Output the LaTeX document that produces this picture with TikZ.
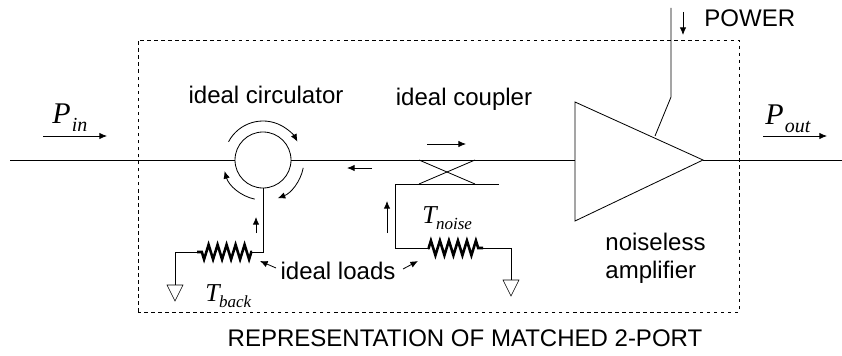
\documentclass[tikz,border=0pt]{standalone}
\usepackage{fontspec}
\setmainfont{Liberation Sans}
\newfontfamily\timesfont{Liberation Serif}
\usetikzlibrary{decorations.pathmorphing, arrows.meta}
\tikzset{
    txt/.style={inner sep=0pt, anchor=base, font=\fontsize{20.5pt}{24pt}\selectfont},
    sym/.style={inner sep=0pt, anchor=base west},
    load/.style={line width=2.2pt, decorate, decoration={zigzag, segment length=0.27cm, amplitude=0.22cm, pre length=0.02cm, post length=0.02cm}},
    gnd/.style={draw, line width=0.5pt}
}
\newcommand{\symP}[2]{{\timesfont\itshape\fontsize{25.6pt}{26pt}\selectfont #1\kern1pt\lower7.5pt\hbox{\fontsize{17pt}{17pt}\selectfont #2}}}
\newcommand{\symT}[2]{{\timesfont\itshape\fontsize{22pt}{22pt}\selectfont #1\kern-0.5pt\lower5.5pt\hbox{\fontsize{14.5pt}{15pt}\selectfont #2}}}
\begin{document}
\begin{tikzpicture}[>={Latex[length=6.5pt,width=5.5pt]}, x=0.03cm, y=0.03cm, line width=0.7pt]
    \useasboundingbox (0,0) rectangle (842,355);
    % 1. Dashed outline of the 2-port
    \draw[dashed, line width=0.6pt] (138,43) rectangle (739,315);

    % 2. Main components
    \node[draw, circle, minimum size=1.68cm, inner sep=0pt] (circ) at (263,195) {};
    \coordinate (linein) at (10,195);
    \coordinate (lineout) at (842,195);
    \coordinate (ampin) at (575,195);
    \coordinate (amptop) at (575,253);
    \coordinate (ampbot) at (575,134);
    \coordinate (amptip) at (703,195);
    \draw (amptop) -- (amptip) -- (ampbot) -- cycle;
    \draw (linein) -- (circ.west);
    \draw (circ.east) -- (ampin);
    \draw (amptip) -- (lineout);

    % 3. Power feed
    \coordinate (powtop) at (671,347);
    \coordinate (powknee) at (671,258);
    \coordinate (powend) at (655,219);
    \draw (powtop) -- (powknee) -- (powend);

    % 4. Coupler
    \coordinate (cplA) at (419,195);
    \coordinate (cplB) at (475,195);
    \coordinate (cplC) at (419,171);
    \coordinate (cplD) at (475,171);
    \coordinate (cplE) at (499,171);
    \coordinate (cplF) at (395,171);
    \draw (cplA) -- (cplD);
    \draw (cplC) -- (cplB);
    \draw (cplF) -- (cplE);

    % 5. Load of the coupler
    \coordinate (noiseL) at (395,107);
    \coordinate (noiseA) at (428,107);
    \coordinate (noiseB) at (483,107);
    \coordinate (noiseR) at (511,107);
    \coordinate (noiseG) at (511,75);
    \draw (cplF) -- (noiseL) -- (noiseA);
    \draw[load] (noiseA) -- (noiseB);
    \draw (noiseB) -- (noiseR) -- (noiseG);
    \draw[gnd] (503,75) -- (519,75) -- (511,59) -- cycle;

    % 6. Load of the circulator
    \coordinate (backR) at (263,103);
    \coordinate (backB) at (252,103);
    \coordinate (backA) at (197,103);
    \coordinate (backL) at (175,103);
    \coordinate (backG) at (175,70);
    \draw (circ.south) -- (backR) -- (backB);
    \draw[load] (backB) -- (backA);
    \draw (backA) -- (backL) -- (backG);
    \draw[gnd] (167,70) -- (183,70) -- (175,54) -- cycle;

    % 7. Circulation arrows
    \draw[->] ([shift={(152:39)}]circ.center) arc (152:28:39);
    \draw[->] ([shift={(-11:41)}]circ.center) arc (-11:-69:41);
    \draw[->] ([shift={(-102:40)}]circ.center) arc (-102:-164:40);

    % 8. Signal arrows
    \draw[->] (43,219) -- (107,219);
    \draw[->] (763,219) -- (827,219);
    \draw[->] (683,343) -- (683,320);
    \draw[->] (427,211) -- (466,211);
    \draw[->] (372,187) -- (347,187);
    \draw[->] (387,122) -- (387,154);
    \draw[->] (256,122) -- (256,138);

    % 9. Labels
    \node[sym] (pin) at (52,232) {\symP{P}{in}};
    \node[sym] (pout) at (765,231) {\symP{P}{out}};
    \node[sym] (tback) at (205,54) {\symT{T}{back}};
    \node[sym] (tnoise) at (422,132) {\symT{T}{noise}};
    \node[txt] (lblcirc) at (266,252) {ideal circulator};
    \node[txt] (lblcpl) at (464,250) {ideal coupler};
    \node[txt] (lblload) at (338,76) {ideal loads};
    \node[txt, anchor=base west] (lblamp1) at (605,105) {noiseless};
    \node[txt, anchor=base west] (lblamp2) at (605,77) {amplifier};
    \node[txt, anchor=base west] (lblpow) at (704,328) {POWER};
    \node[txt] (lblrep) at (465,9) {REPRESENTATION OF MATCHED 2-PORT};
    \coordinate (ptrA) at (276,87);
    \coordinate (ptrB) at (403,86);
    \draw[->] (ptrA) -- (260,94);
    \draw[->] (ptrB) -- (418,94);
\end{tikzpicture}
\end{document}
